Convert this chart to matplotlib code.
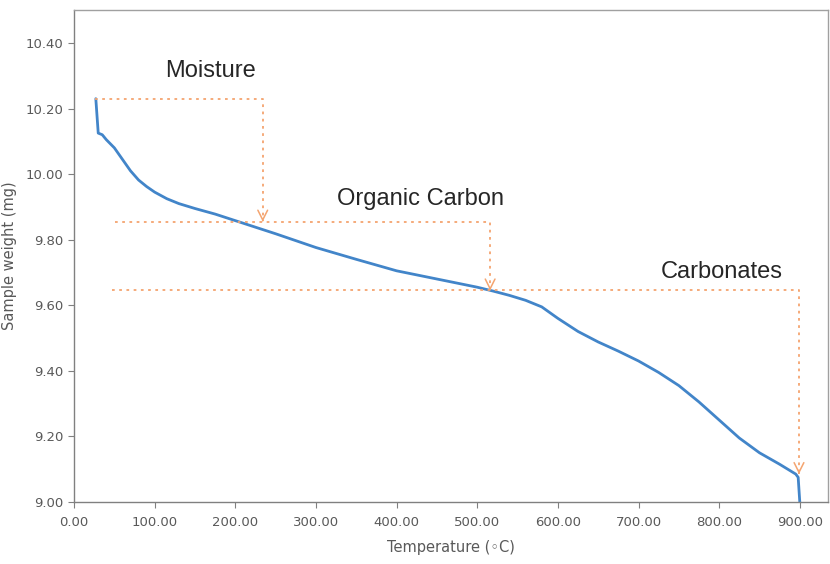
import matplotlib
matplotlib.use("Agg")
import matplotlib.pyplot as plt

# TGA curve
temperature = [27, 30, 35, 40, 50, 60, 70, 80, 90, 100, 115, 130, 150, 175, 200, 250,
               300, 350, 400, 450, 500, 520, 540, 560, 580, 600, 625, 650, 675, 700,
               725, 750, 775, 800, 825, 850, 875, 895, 898, 900]
weight = [10.23, 10.125, 10.12, 10.105, 10.08, 10.045, 10.01, 9.982, 9.962, 9.945,
          9.925, 9.91, 9.895, 9.878, 9.858, 9.818, 9.776, 9.74, 9.705, 9.68, 9.655,
          9.643, 9.63, 9.615, 9.595, 9.56, 9.52, 9.488, 9.46, 9.43, 9.395, 9.355, 9.305,
          9.25, 9.195, 9.15, 9.115, 9.085, 9.075, 9.0]

# stages: label, start temp, level, end temp, arrow target, label pos
stage_labels = ["Moisture", "Organic Carbon", "Carbonates"]
stage_start = [26, 51, 47]
stage_level = [10.23, 9.855, 9.645]
stage_end = [234, 516, 899]
stage_target = [9.855, 9.645, 9.085]
label_x = [169, 430, 803]
label_y = [10.315, 9.925, 9.70]

line_color = "#4285c9"
mark_color = "#f4a46f"
grey = "#595959"

fig = plt.figure(figsize=(8.3, 5.64), dpi=100)
ax = fig.add_axes([0.0892, 0.110, 0.9084, 0.872])

ax.plot(temperature, weight, color=line_color, lw=2, solid_capstyle="round")

for name, x0, lvl, x1, tgt, lx, ly in zip(stage_labels, stage_start, stage_level,
                                          stage_end, stage_target, label_x, label_y):
    ax.plot([x0, x1, x1], [lvl, lvl, tgt + 0.005], color=mark_color, lw=1.3,
            linestyle=(0, (1.5, 2.5)))
    ax.annotate("", xy=(x1, tgt), xytext=(x1, tgt + 0.004),
                arrowprops=dict(arrowstyle="->,head_length=0.7,head_width=0.35",
                                color=mark_color, lw=1.1, shrinkA=0, shrinkB=0))
    ax.text(lx, ly, name, fontsize=17, color="#262626", ha="center", va="center",
            family="Liberation Sans")

ax.set_xlim(0, 935)
ax.set_ylim(9.0, 10.5)
ax.set_xticks(range(0, 1000, 100))
ax.set_xticklabels([f"{v:.2f}" for v in range(0, 1000, 100)])
yt = [9.0, 9.2, 9.4, 9.6, 9.8, 10.0, 10.2, 10.4]
ax.set_yticks(yt)
ax.set_yticklabels([f"{v:.2f}" for v in yt])

for s in ax.spines.values():
    s.set_color("#a0a0a0")
    s.set_linewidth(1)
ax.spines["left"].set_color("#808080")
ax.spines["bottom"].set_color("#808080")
ax.tick_params(axis="both", colors="#808080", labelcolor=grey, labelsize=9.5,
               direction="out", length=4)
ax.tick_params(axis="x", pad=6)

ax.set_xlabel("Temperature (\u25e6C)", fontsize=10.5, color=grey, labelpad=8)
ax.set_ylabel("Sample weight (mg)", fontsize=10.5, color=grey, labelpad=6)

fig.savefig("out.png", dpi=100)
